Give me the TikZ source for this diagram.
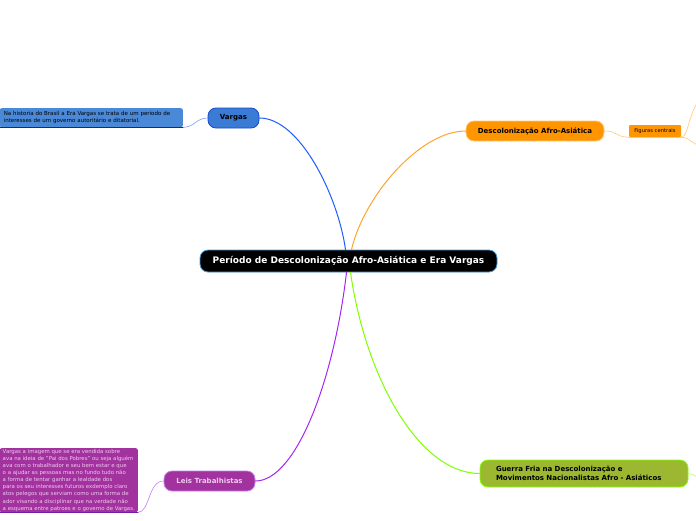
\documentclass[tikz,border=0pt]{standalone}
\usepackage{fontspec}
\setmainfont{DejaVu Sans}
\usepackage{xcolor}
\definecolor{rootline}{HTML}{4A9AD8}
\definecolor{vargasfill}{HTML}{3A7BD5}
\definecolor{vargasline}{HTML}{1F5BFF}
\definecolor{vargasnote}{HTML}{4A88D8}
\definecolor{orangefill}{HTML}{FF9500}
\definecolor{orangeline}{HTML}{FFA42E}
\definecolor{orangelight}{HTML}{FFC878}
\definecolor{leisfill}{HTML}{A2329E}
\definecolor{leisline}{HTML}{A526F0}
\definecolor{leislight}{HTML}{C47CF0}
\definecolor{leistext}{HTML}{F2C8F0}
\definecolor{guerrafill}{HTML}{9CB830}
\definecolor{guerraline}{HTML}{80FF00}

\begin{document}
\begin{tikzpicture}[x=1pt,y=-1pt,line cap=round,
  topic/.style={draw,line width=0.8pt,rounded corners=8pt,inner sep=0pt,
    font=\fontsize{7}{8.4}\selectfont\bfseries,minimum height=20pt},
  note/.style={rectangle,inner xsep=3pt,inner ysep=0pt,align=left,
    font=\fontsize{5.4}{7.1}\selectfont,anchor=north east}]
\useasboundingbox (0,0) rectangle (696,520);
\clip (0,0) rectangle (696,520);
\node[topic,fill=black,draw=rootline,text=white,minimum width=297pt,minimum height=22pt,
  font=\fontsize{9}{10}\selectfont\bfseries] (root) at (348.5,261) {Período de Descolonização Afro-Asiática e Era Vargas};
\node[topic,fill=vargasfill,draw=vargasline!80!black,minimum width=51pt] (vargas) at (233.5,118) {Vargas};
\node[topic,fill=orangefill,draw=orangelight,minimum width=138pt] (descol) at (535,131) {Descolonização Afro-Asiática};
\node[topic,fill=leisfill,draw=leislight,text=leistext,minimum width=91pt] (leis) at (209.5,481) {Leis Trabalhistas};
\node[topic,fill=guerrafill,draw=guerraline,minimum width=208pt,minimum height=27pt,align=left,
  text width=176pt] (guerra) at (584,473.5) {Guerra Fria na Descolonização e\\Movimentos Nacionalistas Afro - Asiáticos};
\node[note,fill=vargasnote,rounded corners=2pt,minimum height=19pt,inner xsep=4pt,
  font=\fontsize{5.5}{7}\selectfont,text width=175pt] (vargasinfo) at (183,108) {Na historia do Brasil a Era Vargas se trata de um periodo de\\interesses de um governo autoritário e ditatorial.};
\node[rectangle,fill=orangefill,rounded corners=1pt,inner sep=0pt,minimum width=52pt,minimum height=12pt,
  font=\fontsize{5.2}{6}\selectfont] (figuras) at (655,131) {Figuras centrais};
\node[note,fill=leisfill,text=leistext,rounded corners=2pt,minimum height=64pt] (leisinfo) at (138,448) {Vargas a imagem que se era vendida sobre\\ava na ideia de "Pai dos Pobres" ou seja alguém\\ava com o trabalhador e seu bem estar e que\\o a ajudar as pessoas mas no fundo tudo não\\a forma de tentar ganhar a lealdade dos\\para os seu interesses futuros exdemplo claro\\atos pelegos que serviam como uma forma de\\ador visando a disciplinar que na verdade não\\a esquema entre patroes e o governo de Vargas.};
\coordinate (figup) at (712,88);
\coordinate (figdown) at (712,150);
\coordinate (guerraout) at (705,479);
\draw[vargasline,line width=1pt] ([xshift=-3pt]root.north) .. controls (338,196) and (300,118) .. (vargas.east);
\draw[orangeline,line width=1pt] ([xshift=3pt]root.north) .. controls (364,196) and (420,131) .. (descol.west);
\draw[leisline,line width=1pt] ([xshift=-2pt]root.south) .. controls (334,380) and (296,481) .. (leis.east);
\draw[guerraline,line width=1pt] ([xshift=2pt]root.south) .. controls (366,380) and (420,473.5) .. (guerra.west);
\draw[vargasline!60,line width=0.6pt] (vargas.west) .. controls (196,118) and (195,127) .. (vargasinfo.south east);
\draw[vargasline!50!black,line width=0.8pt] (vargasinfo.south east) -- (vargasinfo.south west);
\draw[orangelight,line width=0.6pt] (descol.east) .. controls (618,131) and (615,137) .. (figuras.south west);
\draw[orangelight,line width=0.8pt] (figuras.south west) -- (figuras.south east);
\draw[orangelight,line width=0.6pt] (figuras.south east) .. controls (690,137) and (688,100) .. (figup);
\draw[orangelight,line width=0.6pt] (figuras.south east) .. controls (690,137) and (692,146) .. (figdown);
\draw[leislight,line width=0.6pt] (leis.west) .. controls (148,481) and (150,512) .. (leisinfo.south east);
\draw[leisline!70!black,line width=0.8pt] (leisinfo.south east) -- (leisinfo.south west);
\draw[guerraline!60,line width=0.6pt] (guerra.east) .. controls (695,473.5) and (696,479) .. (guerraout);
\end{tikzpicture}
\end{document}
